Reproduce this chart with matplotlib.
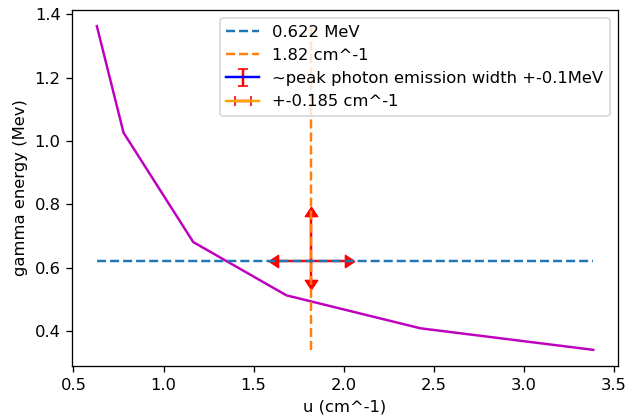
import numpy as np
import matplotlib
matplotlib.use('Agg')
import matplotlib.pyplot as plt
from matplotlib.path import Path
from matplotlib.transforms import Affine2D

# attenuation coefficient vs gamma energy
u = np.array([0.63, 0.778, 1.165, 1.682, 2.426, 3.386])      # cm^-1
E = np.array([1.362, 1.026, 0.681, 0.513, 0.409, 0.341])     # MeV

E_peak = 0.622        # MeV
u_peak = 1.82         # cm^-1
E_photon = 0.662      # MeV, centre of the emission width bar
E_width = 0.1         # MeV
u_err = 0.185         # cm^-1

dpi = 118
fig = plt.figure(figsize=(632 / dpi, 415 / dpi), dpi=dpi)
ax = fig.add_subplot(111)
fig.subplots_adjust(left=0.114, right=0.978, top=0.976, bottom=0.118)

# arrows both ways: two points per bar, one limit each
ebar_y = ax.errorbar([u_peak, u_peak], [E_photon, E_photon], yerr=E_width,
                     lolims=[True, False], uplims=[False, True],
                     color='blue', ecolor='red',
                     label='~peak photon emission width +-0.1MeV')
ebar_x = ax.errorbar([u_peak, u_peak], [E_peak, E_peak], xerr=u_err,
                     xlolims=[True, False], xuplims=[False, True],
                     color='orange', ecolor='red', label='+-0.185 cm^-1')

ax.plot(u, E, color='m')
ax.hlines(E_peak, u.min(), u.max(), colors='C0', linestyles='dashed', label='0.622 MeV')
ax.vlines(u_peak, E.min(), E.max(), colors='C1', linestyles='dashed', label='1.82 cm^-1')

ax.set_xlabel('u (cm^-1)')
ax.set_ylabel('gamma energy (Mev)')
ax.legend(loc='upper right')

# filled red arrow heads, base sitting on the end of the bar
# (done after the legend so its cap ticks keep the default size)
head = Path([[-1, 0], [0, 1.5], [1, 0], [-1, 0]], closed=True)
angles = {10: 0, 11: 180, 8: 90, 9: -90}   # caret up/down/left/right (base)
for eb in (ebar_y, ebar_x):
    for cap in eb[1]:
        rot = angles.get(cap.get_marker(), 0)
        cap.set_marker(head.transformed(Affine2D().rotate_deg(rot)))
        cap.set_markersize(11)
        cap.set_markerfacecolor('red')
        cap.set_markeredgecolor('red')
        cap.set_markeredgewidth(1)

fig.savefig('out.png', dpi=dpi)
